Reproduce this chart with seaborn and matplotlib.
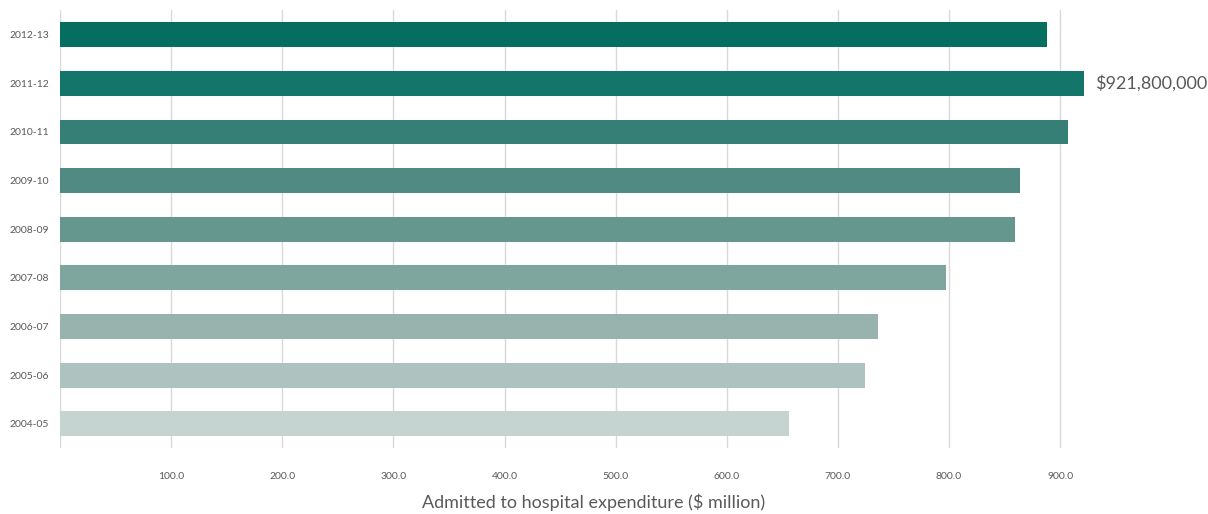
import pandas as pd
import seaborn as sns
import matplotlib.pyplot as plt

# Data ($ million)
years = ['2012-13', '2011-12', '2010-11', '2009-10', '2008-09',
         '2007-08', '2006-07', '2005-06', '2004-05']
expenditure = [888.0, 921.8, 907.0, 863.5, 859.0, 797.0, 736.0, 724.0, 656.0]
bar_colors = ['#066e60', '#14766a', '#367f76', '#518a82', '#66978f',
              '#7fa59f', '#98b2ae', '#aec3c0', '#c6d4d1']
tick_values = [0, 100, 200, 300, 400, 500, 600, 700, 800, 900]
tick_labels = ['', '100.0', '200.0', '300.0', '400.0', '500.0',
               '600.0', '700.0', '800.0', '900.0']
highlight_year = '2011-12'
highlight_label = '$921,800,000'

df = pd.DataFrame({'Year': years, 'Expenditure': expenditure})

sns.set_style('white')
plt.rcParams['font.family'] = ['Lato', 'DejaVu Sans']

fig = plt.figure(figsize=(12.08, 5.14), dpi=100)
ax = fig.add_axes([0.0497, 0.128, 0.884, 0.852])

sns.barplot(
    data=df, x='Expenditure', y='Year', hue='Year',
    palette=bar_colors, order=years, hue_order=years,
    orient='h', width=0.51, legend=False, saturation=1,
    linewidth=0, edgecolor='none', ax=ax
)

# Label the peak year
idx = years.index(highlight_year)
ax.annotate(highlight_label, xy=(expenditure[idx], idx), xytext=(8, 0),
            textcoords='offset points', va='center', ha='left',
            fontsize=13, color='#595959', annotation_clip=False)

ax.set_xlim(0, 961)
ax.set_ylim(8.5, -0.5)
ax.set_xticks(tick_values)
ax.set_xticklabels(tick_labels)
ax.grid(axis='x', color='#d9d9d9', linewidth=1.0)
ax.set_axisbelow(True)
for side in ['top', 'right', 'bottom', 'left']:
    ax.spines[side].set_visible(False)

ax.tick_params(axis='x', labelsize=7.5, colors='#595959', length=0, pad=17)
ax.tick_params(axis='y', labelsize=7.5, colors='#595959', length=0, pad=8)
ax.set_xlabel('Admitted to hospital expenditure ($ million)',
              fontsize=13, color='#595959', labelpad=9)
ax.set_ylabel('')

plt.savefig('out.png', dpi=100)
